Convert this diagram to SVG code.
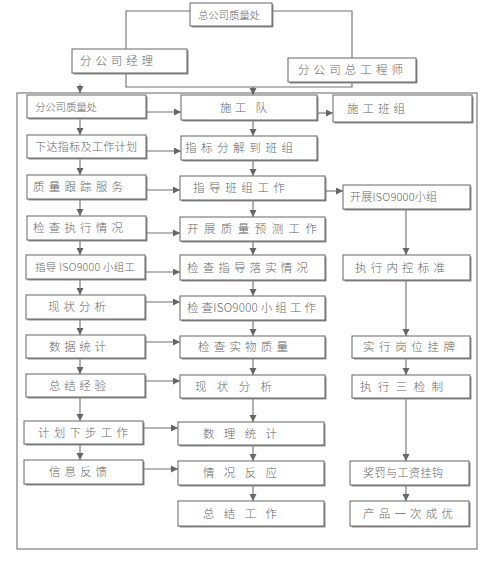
<svg xmlns="http://www.w3.org/2000/svg" width="491" height="564" viewBox="0 0 491 564">
<style>
.box{fill:#fff;stroke:#666;stroke-width:1}
.sh{fill:#8c8c8c}
.t{font-family:"Noto Sans CJK SC","Noto Sans",sans-serif;font-size:11.5px;font-weight:300;fill:#666}
.s{font-size:10.5px}
.m{font-size:11px}
.c{fill:none;stroke:#707070;stroke-width:1.1}
.a{marker-end:url(#ah)}
</style>
<defs>
<marker id="ah" markerUnits="userSpaceOnUse" markerWidth="8" markerHeight="8" refX="7" refY="3.5" orient="auto">
<path d="M0,0 L7,3.5 L0,7 z" fill="#666"/>
</marker>
</defs>
<rect width="491" height="564" fill="#fff"/>
<g id="frame"><rect x="17" y="93" width="460" height="456" class="c"/></g>
<g id="connectors">
<polyline class="c" points="190,11 126,11 126,49"/>
<polyline class="c" points="272,11 352,11 352,58"/>
<polyline class="c" points="126,73 126,87 352,87 352,82"/>
<line class="c a" x1="253" y1="87" x2="253" y2="95"/>
<line class="c a" x1="80" y1="84" x2="80" y2="93"/>
<line class="c a" x1="80" y1="118" x2="80" y2="135"/>
<line class="c a" x1="80" y1="158" x2="80" y2="175"/>
<line class="c a" x1="80" y1="199" x2="80" y2="216"/>
<line class="c a" x1="80" y1="240" x2="80" y2="255"/>
<line class="c a" x1="80" y1="279" x2="80" y2="295"/>
<line class="c a" x1="80" y1="319" x2="80" y2="335"/>
<line class="c a" x1="80" y1="358" x2="80" y2="374"/>
<line class="c a" x1="80" y1="397" x2="80" y2="421"/>
<line class="c a" x1="80" y1="444" x2="80" y2="460"/>
<line class="c a" x1="253" y1="120" x2="253" y2="136"/>
<line class="c a" x1="253" y1="160" x2="253" y2="176"/>
<line class="c a" x1="253" y1="200" x2="253" y2="217"/>
<line class="c a" x1="253" y1="241" x2="253" y2="255"/>
<line class="c a" x1="253" y1="280" x2="253" y2="296"/>
<line class="c a" x1="253" y1="320" x2="253" y2="336"/>
<line class="c a" x1="253" y1="358" x2="253" y2="375"/>
<line class="c a" x1="253" y1="398" x2="253" y2="422"/>
<line class="c a" x1="253" y1="445" x2="253" y2="461"/>
<line class="c a" x1="253" y1="485" x2="253" y2="501"/>
<line class="c a" x1="406" y1="209" x2="406" y2="255"/>
<line class="c a" x1="406" y1="280" x2="406" y2="336"/>
<line class="c a" x1="406" y1="358" x2="406" y2="375"/>
<line class="c a" x1="406" y1="398" x2="406" y2="461"/>
<line class="c a" x1="406" y1="485" x2="406" y2="501"/>
<line class="c a" x1="146" y1="112" x2="181" y2="112"/>
<line class="c a" x1="146" y1="151" x2="181" y2="151"/>
<line class="c a" x1="146" y1="190" x2="180" y2="190"/>
<line class="c a" x1="146" y1="233" x2="180" y2="233"/>
<line class="c a" x1="145" y1="272" x2="180" y2="272"/>
<line class="c a" x1="145" y1="302" x2="180" y2="302"/>
<line class="c a" x1="145" y1="342" x2="180" y2="342"/>
<line class="c a" x1="145" y1="381" x2="180" y2="381"/>
<line class="c a" x1="143" y1="428" x2="178" y2="428"/>
<line class="c a" x1="143" y1="469" x2="178" y2="469"/>
<line class="c a" x1="317" y1="113" x2="333" y2="113"/>
<line class="c a" x1="325" y1="191" x2="343" y2="191"/>
</g>
<g id="n_top"><rect class="sh" x="191.5" y="4.5" width="82" height="23"/><rect class="box" x="190" y="3" width="82" height="23"/><text class="t s" x="198" y="19" textLength="62" lengthAdjust="spacing">总公司质量处</text></g>
<g id="n_mgr"><rect class="sh" x="73.5" y="50.5" width="115" height="24"/><rect class="box" x="72" y="49" width="115" height="24"/><text class="t" x="80" y="65" textLength="73" lengthAdjust="spacing">分公司经理</text></g>
<g id="n_eng"><rect class="sh" x="289.5" y="59.5" width="128" height="24"/><rect class="box" x="288" y="58" width="128" height="24"/><text class="t" x="298" y="74" textLength="105" lengthAdjust="spacing">分公司总工程师</text></g>

<g id="L1"><rect class="sh" x="28.5" y="96.5" width="119" height="23"/><rect class="box" x="27" y="95" width="119" height="23"/><text class="t s" x="35" y="110.5" textLength="62" lengthAdjust="spacing">分公司质量处</text></g>
<g id="L2"><rect class="sh" x="28.5" y="136.5" width="119" height="23"/><rect class="box" x="27" y="135" width="119" height="23"/><text class="t m" x="35" y="150.5" textLength="102" lengthAdjust="spacing">下达指标及工作计划</text></g>
<g id="L3"><rect class="sh" x="28.5" y="176.5" width="119" height="24"/><rect class="box" x="27" y="175" width="119" height="24"/><text class="t" x="33" y="191" textLength="90" lengthAdjust="spacing">质量跟踪服务</text></g>
<g id="L4"><rect class="sh" x="28.5" y="217.5" width="119" height="24"/><rect class="box" x="27" y="216" width="119" height="24"/><text class="t" x="33" y="232" textLength="90" lengthAdjust="spacing">检查执行情况</text></g>
<g id="L5"><rect class="sh" x="27.5" y="256.5" width="119" height="24"/><rect class="box" x="26" y="255" width="119" height="24"/><text class="t s" x="35" y="271" textLength="100" lengthAdjust="spacing">指导 ISO9000 小组工</text></g>
<g id="L6"><rect class="sh" x="27.5" y="296.5" width="119" height="24"/><rect class="box" x="26" y="295" width="119" height="24"/><text class="t" x="48" y="311" textLength="58" lengthAdjust="spacing">现状分析</text></g>
<g id="L7"><rect class="sh" x="27.5" y="336.5" width="119" height="23"/><rect class="box" x="26" y="335" width="119" height="23"/><text class="t" x="49" y="350.5" textLength="57" lengthAdjust="spacing">数据统计</text></g>
<g id="L8"><rect class="sh" x="27.5" y="375.5" width="119" height="23"/><rect class="box" x="26" y="374" width="119" height="23"/><text class="t" x="49" y="389.5" textLength="57" lengthAdjust="spacing">总结经验</text></g>
<g id="L9"><rect class="sh" x="25.5" y="422.5" width="119" height="23"/><rect class="box" x="24" y="421" width="119" height="23"/><text class="t" x="38" y="436.5" textLength="90" lengthAdjust="spacing">计划下步工作</text></g>
<g id="L10"><rect class="sh" x="25.5" y="461.5" width="119" height="24"/><rect class="box" x="24" y="460" width="119" height="24"/><text class="t" x="49" y="476" textLength="58" lengthAdjust="spacing">信息反馈</text></g>

<g id="M1"><rect class="sh" x="182.5" y="96.5" width="136" height="25"/><rect class="box" x="181" y="95" width="136" height="25"/><text class="t" x="220" y="111.5" textLength="47" lengthAdjust="spacing">施工 队</text></g>
<g id="M2"><rect class="sh" x="182.5" y="137.5" width="136" height="24"/><rect class="box" x="181" y="136" width="136" height="24"/><text class="t" x="185" y="152" textLength="108" lengthAdjust="spacing">指标分解到班组</text></g>
<g id="M3"><rect class="sh" x="181.5" y="177.5" width="145" height="24"/><rect class="box" x="180" y="176" width="145" height="24"/><text class="t" x="193" y="192" textLength="92" lengthAdjust="spacing">指导班组工作</text></g>
<g id="M4"><rect class="sh" x="181.5" y="218.5" width="145" height="24"/><rect class="box" x="180" y="217" width="145" height="24"/><text class="t" x="187" y="233" textLength="130" lengthAdjust="spacing">开展质量预测工作</text></g>
<g id="M5"><rect class="sh" x="181.5" y="256.5" width="145" height="25"/><rect class="box" x="180" y="255" width="145" height="25"/><text class="t" x="187" y="271.5" textLength="121" lengthAdjust="spacing">检查指导落实情况</text></g>
<g id="M6"><rect class="sh" x="181.5" y="297.5" width="145" height="24"/><rect class="box" x="180" y="296" width="145" height="24"/><text class="t" x="187" y="312" textLength="129" lengthAdjust="spacing">检 查ISO9000 小 组 工 作</text></g>
<g id="M7"><rect class="sh" x="181.5" y="337.5" width="145" height="22"/><rect class="box" x="180" y="336" width="145" height="22"/><text class="t" x="198" y="351" textLength="90" lengthAdjust="spacing">检查实物质量</text></g>
<g id="M8"><rect class="sh" x="181.5" y="376.5" width="145" height="23"/><rect class="box" x="180" y="375" width="145" height="23"/><text class="t" x="195" y="390.5" textLength="77" lengthAdjust="spacing">现状分析</text></g>
<g id="M9"><rect class="sh" x="179.5" y="423.5" width="146" height="23"/><rect class="box" x="178" y="422" width="146" height="23"/><text class="t" x="203" y="437.5" textLength="74" lengthAdjust="spacing">数理统计</text></g>
<g id="M10"><rect class="sh" x="179.5" y="462.5" width="146" height="24"/><rect class="box" x="178" y="461" width="146" height="24"/><text class="t" x="203" y="477" textLength="74" lengthAdjust="spacing">情况反应</text></g>
<g id="M11"><rect class="sh" x="179.5" y="502.5" width="146" height="25"/><rect class="box" x="178" y="501" width="146" height="25"/><text class="t" x="203" y="517.5" textLength="74" lengthAdjust="spacing">总结工作</text></g>

<g id="R1"><rect class="sh" x="334.5" y="96.5" width="139" height="27"/><rect class="box" x="333" y="95" width="139" height="27"/><text class="t" x="347" y="112.5" textLength="58" lengthAdjust="spacing">施工班组</text></g>
<g id="R2"><rect class="sh" x="344.5" y="186.5" width="127" height="24"/><rect class="box" x="343" y="185" width="127" height="24"/><text class="t m" x="350" y="201" textLength="87" lengthAdjust="spacing">开展ISO9000小组</text></g>
<g id="R3"><rect class="sh" x="344.5" y="256.5" width="127" height="25"/><rect class="box" x="343" y="255" width="127" height="25"/><text class="t" x="355" y="271.5" textLength="90" lengthAdjust="spacing">执行内控标准</text></g>
<g id="R4"><rect class="sh" x="353.5" y="337.5" width="118" height="22"/><rect class="box" x="352" y="336" width="118" height="22"/><text class="t" x="363" y="351" textLength="92" lengthAdjust="spacing">实行岗位挂牌</text></g>
<g id="R5"><rect class="sh" x="353.5" y="376.5" width="118" height="23"/><rect class="box" x="352" y="375" width="118" height="23"/><text class="t" x="360" y="390.5" textLength="83" lengthAdjust="spacing">执行三检制</text></g>
<g id="R6"><rect class="sh" x="351.5" y="462.5" width="119" height="24"/><rect class="box" x="350" y="461" width="119" height="24"/><text class="t m" x="363" y="477" textLength="80" lengthAdjust="spacing">奖罚与工资挂钩</text></g>
<g id="R7"><rect class="sh" x="351.5" y="502.5" width="119" height="25"/><rect class="box" x="350" y="501" width="119" height="25"/><text class="t" x="363" y="517.5" textLength="90" lengthAdjust="spacing">产品一次成优</text></g>
</svg>
